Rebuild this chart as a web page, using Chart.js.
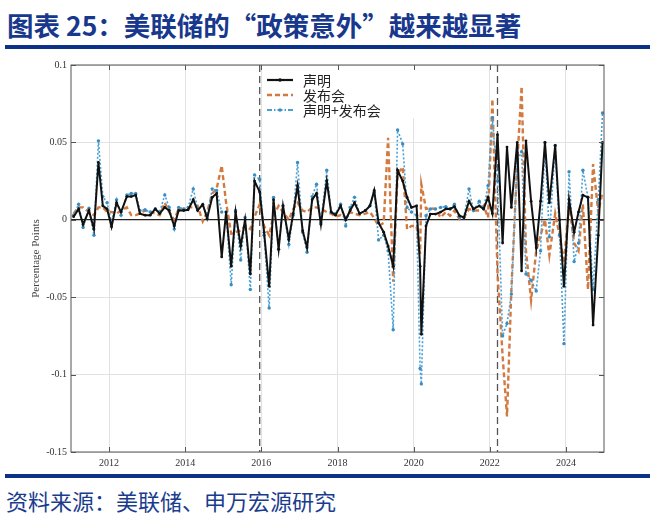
<!DOCTYPE html>
<html>
<head>
<meta charset="utf-8">
<script src="https://cdn.jsdelivr.net/npm/chart.js@4.4.0/dist/chart.umd.min.js"></script>
<style>
  body { margin: 0; width: 659px; height: 526px; background: #fff; position: relative; overflow: hidden; font-family: "Noto Sans CJK SC", sans-serif; }
  .title { position: absolute; left: 7px; top: 5px; font-size: 26.5px; font-weight: bold; color: #17388c; white-space: nowrap; }
  .rule { position: absolute; left: 5px; width: 645px; height: 4px; background: #0b3286; z-index: 2; }
  .source { position: absolute; left: 6px; top: 484px; font-size: 22px; color: #1a3c8e; white-space: nowrap; }
  .wrap { position: absolute; left: 0; top: 52px; width: 640px; height: 420px; }
</style>
</head>
<body>
<div class="title">图表 25：美联储的“政策意外”越来越显著</div>
<div class="rule" style="top:45px"></div>
<div class="wrap"><canvas id="surpriseChart"></canvas></div>
<div class="rule" style="top:474px"></div>
<div class="source">资料来源：美联储、申万宏源研究</div>

<script>
// FOMC meeting dates
const meetingDates = [
    '2011-01-26', '2011-03-15', '2011-04-27', '2011-06-22', '2011-08-09', '2011-09-21', '2011-11-02', '2011-12-13',
    '2012-01-25', '2012-03-13', '2012-04-25', '2012-06-20', '2012-08-01', '2012-09-13', '2012-10-24', '2012-12-12',
    '2013-01-30', '2013-03-20', '2013-05-01', '2013-06-19', '2013-07-31', '2013-09-18', '2013-10-30', '2013-12-18',
    '2014-01-29', '2014-03-19', '2014-04-30', '2014-06-18', '2014-07-30', '2014-09-17', '2014-10-29', '2014-12-17',
    '2015-01-28', '2015-03-18', '2015-04-29', '2015-06-17', '2015-07-29', '2015-09-17', '2015-10-28', '2015-12-16',
    '2016-01-27', '2016-03-16', '2016-04-27', '2016-06-15', '2016-07-27', '2016-09-21', '2016-11-02', '2016-12-14',
    '2017-02-01', '2017-03-15', '2017-05-03', '2017-06-14', '2017-07-26', '2017-09-20', '2017-11-01', '2017-12-13',
    '2018-01-31', '2018-03-21', '2018-05-02', '2018-06-13', '2018-08-01', '2018-09-26', '2018-11-08', '2018-12-19',
    '2019-01-30', '2019-03-20', '2019-05-01', '2019-06-19', '2019-07-31', '2019-09-18', '2019-10-30', '2019-12-11',
    '2020-01-29', '2020-03-03', '2020-03-15', '2020-04-29', '2020-06-10', '2020-07-29', '2020-09-16', '2020-11-05', '2020-12-16',
    '2021-01-27', '2021-03-17', '2021-04-28', '2021-06-16', '2021-07-28', '2021-09-22', '2021-11-03', '2021-12-15',
    '2022-01-26', '2022-03-16', '2022-05-04', '2022-06-15', '2022-07-27', '2022-09-21', '2022-11-02', '2022-12-14',
    '2023-02-01', '2023-03-22', '2023-05-03', '2023-06-14', '2023-07-26', '2023-09-20', '2023-11-01', '2023-12-13',
    '2024-01-31', '2024-03-20', '2024-05-01', '2024-06-12', '2024-07-31', '2024-09-18', '2024-11-07', '2024-12-18'
];

// 声明
const statementVals = [
    0.002, 0.007, -0.003, 0.006, -0.006, 0.037, 0.009, 0.007,
    -0.0045, 0.011, 0.005, 0.015, 0.015, 0.016, 0.004, 0.003,
    0.003, 0.007, 0.004, 0.008, 0.006, -0.004, 0.006, 0.006,
    0.0065, 0.013, 0.006, 0.010, 0.001, 0.0145, 0.017, -0.024,
    0.005, -0.030, 0.005, -0.017, 0.0, -0.035, 0.025, 0.018,
    -0.008, -0.043, 0.013, -0.019, 0.009, -0.0125, 0.004, 0.022,
    -0.007, -0.018, 0.013, 0.017, -0.003, 0.025, 0.005, 0.003,
    0.009, 0.0, 0.006, 0.011, 0.004, 0.006, 0.009, 0.019,
    -0.002, -0.008, -0.017, -0.030, 0.032, 0.025, 0.0145, 0.008,
    0.009, -0.030, -0.074, -0.004, 0.0037, 0.0037, 0.005, 0.007, 0.007,
    0.0085, 0.0026, 0.0015, 0.012, 0.007, 0.009, 0.007, 0.0145,
    0.004, 0.055, -0.015, 0.047, 0.008, 0.050, -0.033, 0.051,
    0.012, -0.018, 0.012, 0.050, 0.011, 0.048, 0.0, -0.043,
    0.013, -0.008, 0.005, 0.016, 0.0145, -0.068, -0.010, 0.050
];

// 发布会
const pressVals = [
    0.004, 0.008, 0.008, 0.005, 0.003, 0.008, 0.008, 0.005,
    0.005, 0.004, 0.006, 0.008, 0.003, 0.003, 0.004, 0.006,
    0.005, 0.004, 0.003, 0.011, 0.005, 0.0, 0.007, 0.007,
    0.008, 0.008, 0.009, -0.001, 0.005, 0.017, 0.020, 0.035,
    0.011, -0.009, -0.008, -0.007, -0.004, -0.006, 0.002, 0.010,
    -0.004, -0.010, 0.003, 0.009, 0.005, 0.0, 0.007, 0.011,
    0.006, 0.005, 0.008, 0.008, 0.007, 0.005, 0.004, 0.002,
    0.003, 0.001, 0.005, 0.004, 0.003, 0.004, 0.005, 0.001,
    -0.004, -0.002, 0.053, -0.040, 0.030, 0.034, -0.006, -0.004,
    -0.004, -0.022, 0.023, 0.007, 0.0075, 0.007, 0.0015, 0.005, 0.0026,
    0.006, 0.0004, 0.0015, 0.007, 0.006, 0.006, 0.009, 0.0015,
    0.078, -0.034, -0.088, -0.127, -0.045, 0.037, 0.086, -0.020,
    -0.052, -0.020, -0.010, 0.0, -0.023, 0.004, -0.010, -0.028,
    0.010, -0.015, -0.020, 0.010, -0.045, 0.036, 0.005, 0.018
];

// 声明+发布会
const combinedVals = [
    0.003, 0.010, -0.005, 0.0075, -0.010, 0.051, 0.015, 0.011,
    -0.002, 0.013, 0.003, 0.016, 0.017, 0.017, 0.006, 0.0065,
    0.005, 0.007, 0.005, 0.016, 0.008, -0.006, 0.008, 0.007,
    0.008, 0.020, 0.007, 0.0095, 0.0026, 0.020, 0.019, 0.005,
    0.005, -0.042, 0.006, -0.026, 0.0015, -0.045, 0.029, 0.026,
    -0.010, -0.057, 0.0145, -0.019, 0.009, -0.016, 0.003, 0.037,
    -0.008, -0.021, 0.015, 0.023, -0.002, 0.032, 0.005, 0.004,
    0.010, -0.004, 0.008, 0.0145, 0.004, 0.006, 0.009, 0.018,
    -0.013, -0.010, -0.020, -0.071, 0.058, 0.049, 0.008, 0.005,
    0.003, -0.096, -0.106, 0.0026, 0.007, 0.007, 0.008, 0.0085, 0.007,
    0.010, 0.0015, 0.0015, 0.020, 0.006, 0.012, 0.007, 0.022,
    0.066, 0.025, -0.075, -0.067, -0.048, 0.038, 0.044, -0.035,
    -0.039, -0.046, -0.020, 0.050, -0.011, 0.048, -0.010, -0.080,
    0.031, -0.027, -0.015, 0.032, 0.0145, -0.045, 0.013, 0.069
];

const seriesNames = ['声明', '发布会', '声明+发布会'];
const xTickYears = [2012, 2014, 2016, 2018, 2020, 2022, 2024];
const yTickValues = [-0.15, -0.1, -0.05, 0, 0.05, 0.1];
const yTickLabels = ['-0.15', '-0.1', '-0.05', '0', '0.05', '0.1'];
// dashed markers: liftoff Dec 2015, hiking cycle Mar 2022
const regimeDates = ['2015-12-16', '2022-03-16'];

function toYear(s) {
    const [y, m, d] = s.split('-').map(Number);
    const start = Date.UTC(y, 0, 1), end = Date.UTC(y + 1, 0, 1);
    return y + (Date.UTC(y, m - 1, d) - start) / (end - start);
}

const pts = vals => vals.map((v, i) => ({ x: toYear(meetingDates[i]), y: v }));

const BLACK = '#111111';
const ORANGE = '#d27a40';
const BLUE = '#4aa0d5';
const BLUE_DOT = '#3a8dc3';

const framePlugin = {
    id: 'frame',
    beforeDatasetsDraw(chart) {
        const { ctx, chartArea: a, scales: { x } } = chart;
        ctx.save();
        ctx.strokeStyle = '#555';
        ctx.lineWidth = 1.3;
        ctx.setLineDash([7, 4]);
        regimeDates.forEach(d => {
            const px = x.getPixelForValue(toYear(d));
            ctx.beginPath();
            ctx.moveTo(px, a.top);
            ctx.lineTo(px, a.bottom);
            ctx.stroke();
        });
        ctx.restore();
    },
    afterDatasetsDraw(chart) {
        const { ctx, chartArea: a, scales: { x, y } } = chart;
        ctx.save();

        // legend box
        const lx = a.left + 192, ly = a.top + 1;
        ctx.fillStyle = '#fff';
        ctx.fillRect(lx, ly, 168, 52);
        const rows = [
            { color: BLACK, dash: [], width: 2.2, marker: BLACK },
            { color: ORANGE, dash: [5, 3], width: 2.6, marker: null },
            { color: BLUE, dash: [5, 2, 1.5, 2], width: 1.8, marker: BLUE_DOT }
        ];
        ctx.font = '14px "Noto Sans CJK SC"';
        ctx.textBaseline = 'middle';
        rows.forEach((r, i) => {
            const yy = a.top + 15 + i * 15;
            ctx.strokeStyle = r.color;
            ctx.lineWidth = r.width;
            ctx.setLineDash(r.dash);
            ctx.beginPath();
            ctx.moveTo(a.left + 196, yy);
            ctx.lineTo(a.left + 222, yy);
            ctx.stroke();
            ctx.setLineDash([]);
            if (r.marker) {
                ctx.fillStyle = r.marker;
                ctx.beginPath();
                ctx.arc(a.left + 209, yy, 1.8, 0, Math.PI * 2);
                ctx.fill();
            }
            ctx.fillStyle = '#222';
            ctx.fillText(seriesNames[i], a.left + 232, yy + 1);
        });

        // box and inward ticks
        ctx.strokeStyle = '#555';
        ctx.lineWidth = 1;
        ctx.strokeRect(a.left, a.top, a.right - a.left, a.bottom - a.top);
        ctx.beginPath();
        xTickYears.forEach(v => {
            const px = Math.round(x.getPixelForValue(v)) + 0.5;
            ctx.moveTo(px, a.bottom); ctx.lineTo(px, a.bottom - 5);
            ctx.moveTo(px, a.top); ctx.lineTo(px, a.top + 5);
        });
        yTickValues.forEach(v => {
            const py = Math.round(y.getPixelForValue(v)) + 0.5;
            ctx.moveTo(a.left, py); ctx.lineTo(a.left + 5, py);
            ctx.moveTo(a.right, py); ctx.lineTo(a.right - 5, py);
        });
        ctx.stroke();
        ctx.restore();
    }
};

const ctx = document.getElementById('surpriseChart').getContext('2d');

new Chart(ctx, {
    type: 'line',
    data: {
        datasets: [
            {
                label: seriesNames[0],
                data: pts(statementVals),
                borderColor: BLACK,
                borderWidth: 2,
                pointRadius: 1.4,
                pointBackgroundColor: BLACK,
                pointBorderWidth: 0,
                tension: 0,
                order: 0
            },
            {
                label: seriesNames[1],
                data: pts(pressVals),
                borderColor: ORANGE,
                borderWidth: 2.4,
                borderDash: [5, 3],
                pointRadius: 0,
                tension: 0,
                order: 2
            },
            {
                label: seriesNames[2],
                data: pts(combinedVals),
                borderColor: BLUE,
                borderWidth: 1.6,
                borderDash: [2, 2],
                pointRadius: 1.7,
                pointBackgroundColor: BLUE_DOT,
                pointBorderWidth: 0,
                tension: 0,
                order: 1
            }
        ]
    },
    options: {
        responsive: true,
        maintainAspectRatio: false,
        animation: false,
        layout: { padding: { top: 13, right: 36, left: 0, bottom: 0 } },
        scales: {
            x: {
                type: 'linear',
                min: 2011,
                max: 2025,
                afterBuildTicks: axis => { axis.ticks = xTickYears.map(v => ({ value: v })); },
                afterFit: scale => { scale.height = 20; },
                ticks: {
                    callback: v => String(v),
                    font: { family: 'Liberation Serif', size: 10 },
                    color: '#333',
                    padding: 5,
                    maxRotation: 0
                },
                grid: { color: '#e2e2e2', drawTicks: false },
                border: { display: false }
            },
            y: {
                min: -0.15,
                max: 0.1,
                afterBuildTicks: axis => { axis.ticks = yTickValues.map(v => ({ value: v })); },
                afterFit: scale => { scale.width = 71; },
                ticks: {
                    callback: (v, i) => yTickLabels[i],
                    font: { family: 'Liberation Serif', size: 10 },
                    color: '#333',
                    padding: 4
                },
                title: {
                    display: true,
                    text: 'Percentage Points',
                    font: { family: 'Liberation Serif', size: 11 },
                    color: '#444',
                    padding: { top: 30, bottom: 0 }
                },
                grid: {
                    color: c => c.tick.value === 0 ? '#222' : '#e2e2e2',
                    lineWidth: c => c.tick.value === 0 ? 1.2 : 1,
                    drawTicks: false
                },
                border: { display: false }
            }
        },
        plugins: {
            legend: { display: false },
            tooltip: { enabled: false }
        }
    },
    plugins: [framePlugin]
});
</script>
</body>
</html>
